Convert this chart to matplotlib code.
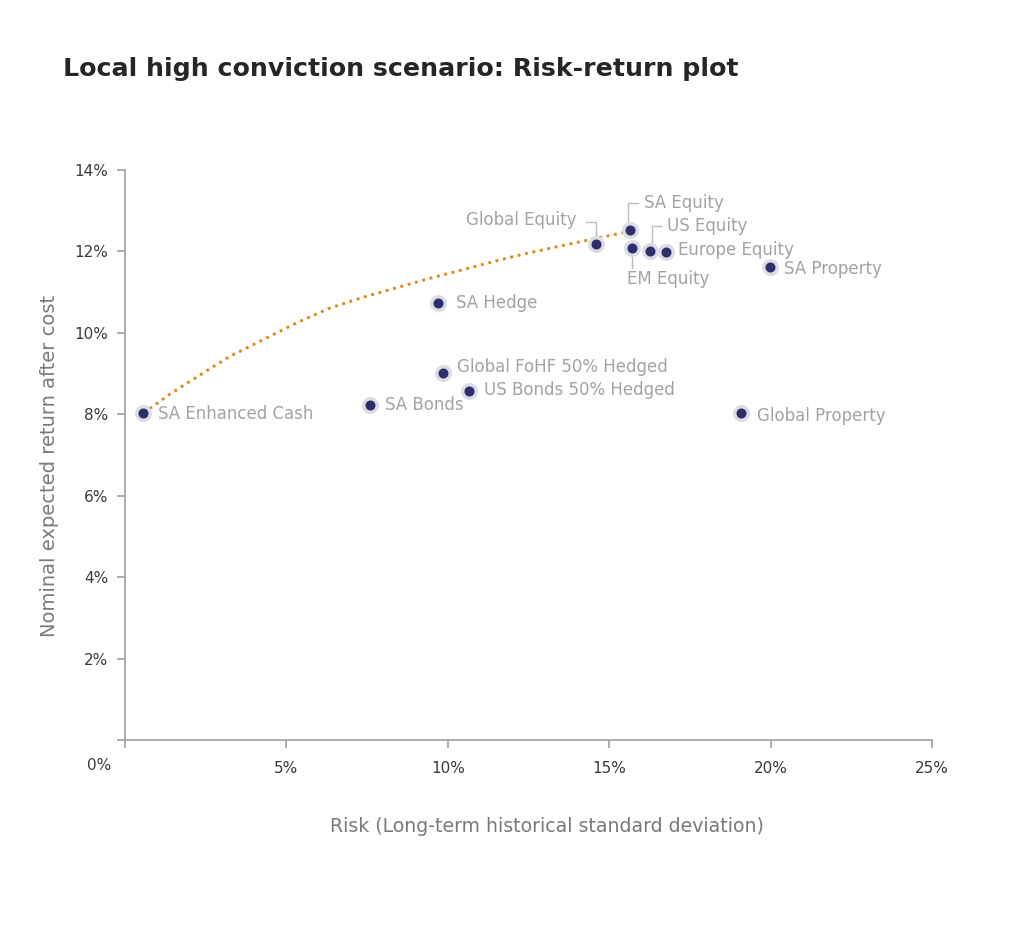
import matplotlib
matplotlib.use("Agg")
import matplotlib.pyplot as plt
from matplotlib.ticker import FuncFormatter, MultipleLocator

# asset classes: risk (%), expected return (%)
names = ["SA Enhanced Cash", "SA Bonds", "SA Hedge", "Global FoHF 50% Hedged",
         "US Bonds 50% Hedged", "Global Equity", "SA Equity", "EM Equity",
         "US Equity", "Europe Equity", "SA Property", "Global Property"]
risk = [0.57, 7.59, 9.71, 9.85, 10.66, 14.58, 15.64, 15.71, 16.26, 16.76, 19.98, 19.08]
ret = [8.03, 8.23, 10.74, 9.01, 8.58, 12.18, 12.53, 12.09, 12.01, 11.99, 11.62, 8.03]

# efficient frontier
front_x = [0.57, 1.4, 2.23, 3.2, 4.27, 5.3, 6.35, 7.4, 8.42, 9.45, 10.46, 11.5, 12.54, 14.0, 15.42, 15.64]
front_y = [8.03, 8.5, 8.92, 9.4, 9.83, 10.24, 10.61, 10.88, 11.11, 11.34, 11.55, 11.77, 11.97, 12.22, 12.46, 12.5]

# label placement: (dx px, dy px, ha)
label_pos = {
    "SA Enhanced Cash": (15, -1, "left"),
    "SA Bonds": (15, 0, "left"),
    "SA Hedge": (18, 0, "left"),
    "Global FoHF 50% Hedged": (14, 6, "left"),
    "US Bonds 50% Hedged": (15, 1, "left"),
    "Global Equity": (-19, 24, "right"),
    "SA Equity": (14, 27, "left"),
    "EM Equity": (-5, -31, "left"),
    "US Equity": (17, 25, "left"),
    "Europe Equity": (12, 2, "left"),
    "SA Property": (14, -2, "left"),
    "Global Property": (16, -3, "left"),
}
# leader lines in px offsets from the point
leaders = {
    "Global Equity": [(-10, 22), (0, 22), (0, 8)],
    "SA Equity": [(8, 27), (-2, 27), (-2, 9)],
    "US Equity": [(11, 25), (2, 25), (2, 8)],
    "EM Equity": [(0, -8), (0, -20)],
}

navy = "#2c2f6b"
halo = "#dcdce5"
lab_c = "#a3a3a3"
spine_c = "#a6a6a6"

plt.rcParams['font.family'] = ['DejaVu Sans']
fig = plt.figure(figsize=(10.24, 9.26), dpi=100)
ax = fig.add_axes([0.1221, 0.2009, 0.7880, 0.6155])
ax.set_xlim(0, 25)
ax.set_ylim(0, 14)

ax.plot(front_x, front_y, linestyle=(0, (1, 1.6)), color="#e08a1e", lw=2.1, zorder=2)
ax.scatter(risk, ret, s=95, color=navy, edgecolors=halo, linewidths=2.5, zorder=3)

inv = ax.transData.inverted()
for i, n in enumerate(names):
    dx, dy, ha = label_pos[n]
    ax.annotate(n, (risk[i], ret[i]), xytext=(dx, dy), textcoords="offset pixels",
                ha=ha, va="center", color=lab_c, fontsize=12)
    if n in leaders:
        d = ax.transData.transform((risk[i], ret[i]))
        dpts = [inv.transform((d[0] + px, d[1] + py)) for px, py in leaders[n]]
        ax.plot([p[0] for p in dpts], [p[1] for p in dpts], color="#bdbdbd", lw=1, zorder=1)

ax.xaxis.set_major_locator(MultipleLocator(5))
ax.yaxis.set_major_locator(MultipleLocator(2))
# the 0% of the x axis sits left of its tick in the original, drawn separately below
ax.xaxis.set_major_formatter(FuncFormatter(lambda v, p: "" if v == 0 else "%d%%" % v))
ax.yaxis.set_major_formatter(FuncFormatter(lambda v, p: "" if v == 0 else "%d%%" % v))
ax.annotate("0%", (0, 0), xytext=(-14, -26), textcoords="offset pixels",
            ha="right", va="center", color="#3a3a3a", fontsize=11,
            annotation_clip=False)

for s in ["top", "right"]:
    ax.spines[s].set_visible(False)
for s in ["left", "bottom"]:
    ax.spines[s].set_color(spine_c)
    ax.spines[s].set_linewidth(1.3)
ax.tick_params(axis="both", direction="out", length=6, width=1.3, color=spine_c,
               labelcolor="#3a3a3a", labelsize=11)
ax.tick_params(axis="x", pad=9)
ax.tick_params(axis="y", pad=6)

ax.set_xlabel("Risk (Long-term historical standard deviation)", color="#7a7a7a",
              fontsize=13.6, va="center")
ax.set_ylabel("Nominal expected return after cost", color="#7a7a7a",
              fontsize=14, va="center")
ax.xaxis.set_label_coords(0.523, -0.151)
ax.yaxis.set_label_coords(-0.093, 0.481)

fig.text(0.0615, 0.926, "Local high conviction scenario: Risk-return plot",
         fontsize=18.2, fontweight="bold", color="#262626", va="center", ha="left")

fig.savefig("out.png", dpi=100, facecolor="white")
